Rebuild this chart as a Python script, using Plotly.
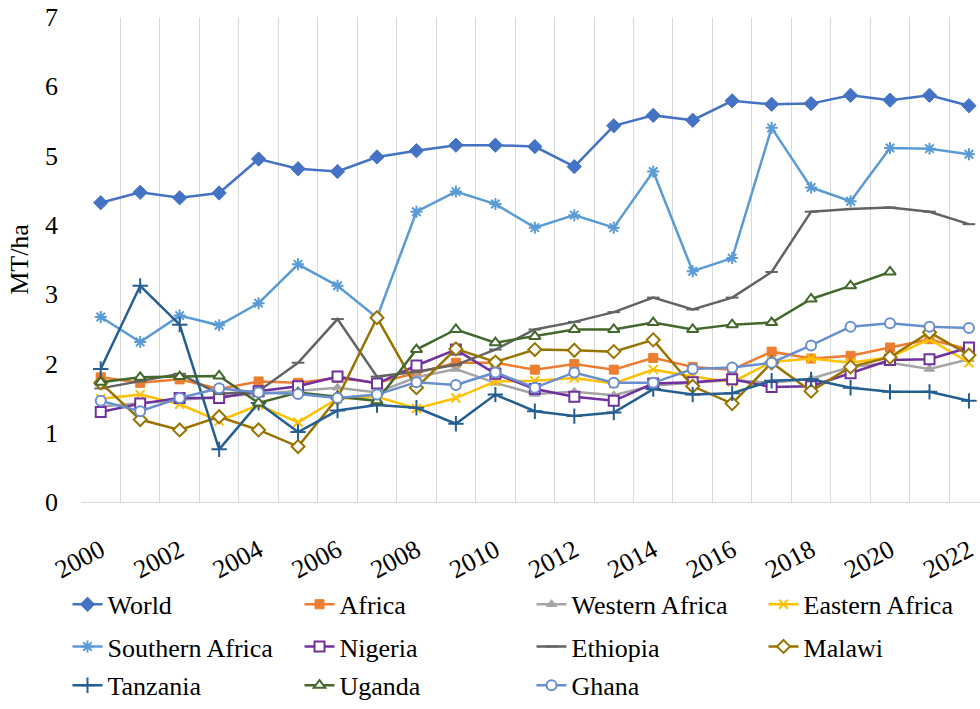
import plotly.graph_objects as go

years = list(range(2000, 2023))

world = [4.32, 4.47, 4.39, 4.46, 4.95, 4.81, 4.77, 4.98, 5.07, 5.15, 5.15, 5.13,
         4.84, 5.43, 5.58, 5.51, 5.79, 5.74, 5.75, 5.87, 5.80, 5.87, 5.72]
africa = [1.80, 1.72, 1.77, 1.63, 1.74, 1.72, 1.79, 1.72, 1.86, 2.01, 2.01, 1.91,
          1.99, 1.91, 2.08, 1.95, 1.91, 2.17, 2.07, 2.11, 2.23, 2.35, 2.20]
western_africa = [1.38, 1.43, 1.47, 1.52, 1.56, 1.60, 1.65, 1.58, 1.80, 1.92, 1.72, 1.56,
                  1.59, 1.54, 1.68, 1.72, 1.76, 1.72, 1.78, 1.95, 2.01, 1.92, 2.06]
eastern_africa = [1.49, 1.55, 1.41, 1.17, 1.40, 1.15, 1.49, 1.52, 1.35, 1.50, 1.74, 1.75,
                  1.79, 1.71, 1.91, 1.81, 1.73, 2.02, 2.07, 2.01, 2.09, 2.35, 2.01]
southern_africa = [2.67, 2.31, 2.69, 2.55, 2.87, 3.43, 3.12, 2.66, 4.19, 4.48, 4.30, 3.96,
                   4.14, 3.96, 4.77, 3.33, 3.52, 5.40, 4.54, 4.34, 5.11, 5.10, 5.02]
nigeria = [1.30, 1.42, 1.50, 1.50, 1.60, 1.67, 1.81, 1.71, 1.97, 2.20, 1.85, 1.63,
           1.52, 1.46, 1.71, 1.73, 1.77, 1.66, 1.67, 1.86, 2.05, 2.06, 2.23]
ethiopia = [1.64, 1.74, 1.85, 1.56, 1.60, 2.01, 2.64, 1.81, 1.88, 1.98, 2.20, 2.49,
            2.60, 2.74, 2.95, 2.78, 2.95, 3.32, 4.19, 4.23, 4.25, 4.19, 4.01]
malawi = [1.72, 1.19, 1.04, 1.23, 1.04, 0.80, 1.50, 2.66, 1.65, 2.21, 2.02, 2.20,
          2.19, 2.17, 2.34, 1.67, 1.42, 2.01, 1.60, 1.95, 2.09, 2.45, 2.12]
tanzania = [1.92, 3.12, 2.56, 0.76, 1.43, 1.01, 1.32, 1.40, 1.36, 1.13, 1.55, 1.31,
            1.24, 1.29, 1.63, 1.55, 1.57, 1.75, 1.77, 1.65, 1.59, 1.59, 1.46]
uganda = [1.73, 1.80, 1.81, 1.82, 1.43, 1.58, 1.52, 1.46, 2.20, 2.49, 2.30, 2.39,
          2.49, 2.49, 2.59, 2.49, 2.56, 2.59, 2.93, 3.12, 3.32, None, None]
ghana = [1.46, 1.31, 1.50, 1.64, 1.58, 1.56, 1.50, 1.55, 1.73, 1.69, 1.87, 1.65,
         1.87, 1.72, 1.72, 1.92, 1.94, 2.01, 2.26, 2.53, 2.58, 2.53, 2.51]

tick_years = years[::2]
tick_labels = [str(y) for y in tick_years]

FONT = "Times New Roman"

# name, values, colour, marker symbol, marker size, fill, legend box
series = [
    ("World", world, "#4472C4", "diamond", 11, None, "legend"),
    ("Africa", africa, "#ED7D31", "square", 9, None, "legend"),
    ("Western Africa", western_africa, "#A5A5A5", "triangle-up", 9, None, "legend"),
    ("Eastern Africa", eastern_africa, "#FFC000", "x-thin-open", 9, None, "legend2"),
    ("Southern Africa", southern_africa, "#5B9BD5", "asterisk-open", 10, None, "legend3"),
    ("Nigeria", nigeria, "#7030A0", "square", 10, "white", "legend3"),
    ("Ethiopia", ethiopia, "#636363", "line-ew-open", 9, None, "legend3"),
    ("Malawi", malawi, "#997300", "diamond", 10, "white", "legend4"),
    ("Tanzania", tanzania, "#255E91", "cross-thin-open", 11, None, "legend5"),
    ("Uganda", uganda, "#43682B", "triangle-up", 10, "white", "legend5"),
    ("Ghana", ghana, "#698ED0", "circle", 10, "white", "legend5"),
]

fig = go.Figure()
for name, vals, color, symbol, size, fill, leg in series:
    if symbol.endswith("-open"):
        marker = dict(symbol=symbol, size=size, color=color,
                      line=dict(color=color, width=2))
    elif fill:
        marker = dict(symbol=symbol, size=size, color=fill,
                      line=dict(color=color, width=2))
    else:
        marker = dict(symbol=symbol, size=size, color=color,
                      line=dict(color=color, width=1))
    fig.add_trace(go.Scatter(
        x=years, y=vals, name=name, mode="lines+markers",
        line=dict(color=color, width=2.5),
        marker=marker, legend=leg, connectgaps=False,
    ))

# category boundaries used for the vertical gridlines
boundaries = [y - 0.5 for y in years] + [years[-1] + 0.5]

legend_font = dict(family=FONT, size=26, color="black")
wide = dict(orientation="h", xanchor="left", yanchor="middle", font=legend_font,
            entrywidth=187, entrywidthmode="pixels", bgcolor="rgba(0,0,0,0)")
narrow = dict(orientation="h", xanchor="left", yanchor="middle", font=legend_font,
              bgcolor="rgba(0,0,0,0)")

col1_x = -0.015
col4_x = col1_x + 3 * 232 / 899
row_y = [-0.211, -0.298, -0.378]

fig.update_layout(
    width=980, height=709,
    margin=dict(l=81, r=0, t=17, b=193),
    paper_bgcolor="white", plot_bgcolor="white",
    font=dict(family=FONT, color="black"),
    xaxis=dict(
        range=[1999.5, 2022.28],
        tickmode="array", tickvals=tick_years, ticktext=tick_labels,
        tickangle=-28, tickfont=dict(family=FONT, size=26, color="black"),
        ticks="outside", ticklen=22, tickcolor="rgba(0,0,0,0)",
        showgrid=False, zeroline=False,
        showline=True, linecolor="#D9D9D9", linewidth=1,
        minor=dict(tickmode="array", tickvals=boundaries, showgrid=True,
                   gridcolor="#D9D9D9", gridwidth=1, ticks=""),
    ),
    yaxis=dict(
        range=[0, 7], tickmode="linear", tick0=0, dtick=1,
        tickfont=dict(family=FONT, size=26, color="black"),
        showgrid=False, zeroline=False, showline=False, ticks="",
        ticklabelstandoff=22,
        title=dict(text="MT/ha", font=dict(family=FONT, size=26, color="black"),
                   standoff=8),
    ),
    legend=dict(x=col1_x, y=row_y[0], **wide),
    legend2=dict(x=col4_x, y=row_y[0], **narrow),
    legend3=dict(x=col1_x, y=row_y[1], **wide),
    legend4=dict(x=col4_x, y=row_y[1], **narrow),
    legend5=dict(x=col1_x, y=row_y[2], **wide),
)

fig.write_html("out.html")
